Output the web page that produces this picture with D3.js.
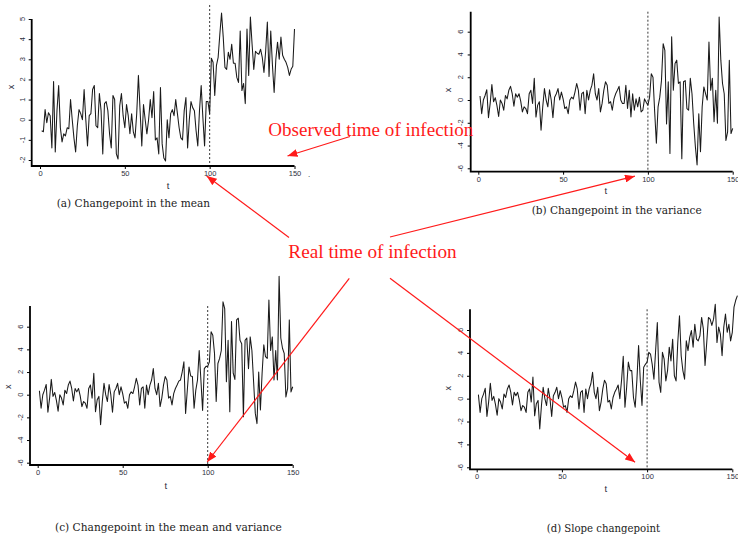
<!DOCTYPE html>
<html><head><meta charset="utf-8">
<script src="https://cdn.jsdelivr.net/npm/d3@7"></script>
<style>body{margin:0;background:#fff}svg{display:block}</style>
</head><body><svg id="c" width="738" height="535"></svg>
<script>
// ---------- data ----------
const tTicks = [0, 50, 100, 150];
const yTicksA = [-2, -1, 0, 1, 2, 3, 4, 5];
const yTicksB = [-6, -4, -2, 0, 2, 4, 6];
const changeT = 100;

// (a) changepoint in the mean, t = 1..150
const seriesA = [-0.55,-0.6,0.5,-0.15,0.35,0.2,-1.4,1.9,-1.6,0.45,1.7,-0.4,-1.1,-0.7,-0.8,-0.4,-0.45,1.0,0.0,-0.9,
-1.6,-0.3,0.5,0.3,0.0,1.5,0.0,-1.3,0.2,0.3,1.5,1.7,-0.3,-0.4,1.3,0.45,-1.7,0.8,0.9,0.45,
-0.7,-1.4,1.2,1.0,-1.7,-1.95,0.7,1.3,0.2,-0.4,0.75,0.2,-0.7,0.3,-0.6,-0.9,0.3,2.2,0.45,-1.3,
0.75,0.0,-0.7,0.0,1.0,0.1,1.4,-1.0,-0.9,-1.7,1.6,-1.2,-1.9,-2.05,0.0,-0.9,0.3,0.5,0.2,1.0,
0.3,-0.4,-0.9,-1.0,0.45,1.1,-1.4,0.0,0.9,0.6,0.45,-0.55,-1.3,0.45,1.7,0.1,-1.3,0.9,0.9,0.3,
3.05,2.85,1.2,2.7,3.1,4.25,5.3,4.1,2.6,2.5,3.35,3.0,3.75,2.8,2.8,2.1,1.85,4.4,1.45,1.8,
0.8,4.5,2.2,5.1,3.75,2.5,3.4,3.3,3.25,3.5,3.1,2.35,3.4,4.85,2.15,4.4,2.7,1.35,3.0,3.85,
3.0,4.1,3.2,3.0,2.85,2.6,2.2,2.5,2.65,4.5];

// (b) changepoint in the variance, t = 1..150
const seriesB = [0.35,-1.2,0,0.4,0.9,-1.55,-0.3,1.35,-0.15,0.2,-0.5,-1.45,0,-0.3,-0.9,0.4,0.1,0.85,1.2,0.55,
-0.55,0.55,0.25,0.55,-0.1,-1.05,-0.6,-0.75,-1.2,0.55,0.85,-0.3,1.9,-1.5,-0.45,-0.15,-2.65,-0.6,1.0,0,
-0.6,0.9,0,-1.55,0.25,0.55,1.0,0,0.7,0.1,-0.75,-0.6,-1.2,0,0.25,0.1,0.7,1.45,0.85,-0.9,
0.55,0.7,-1.2,0.85,0,0.85,1.3,2.3,0.55,0,1.0,-1.05,-0.3,0.85,1.6,1.3,-0.3,-0.15,-0.9,0.1,
0.55,0.85,1.2,0,-0.3,-0.3,1.3,-0.75,0.85,-1.5,0.55,-0.9,0.1,-0.6,0.25,-1.05,-0.9,0.1,-0.2,-0.45,
0.25,2.3,2.0,-1.05,-3.8,-0.6,0.25,1.7,4.95,4.35,-2.1,1.6,-4.7,5.55,0.85,3.2,3.5,1.45,1.6,-5.15,
1.6,1.7,-0.75,-0.9,1.9,0.55,-2.05,-4.1,-5.7,-1.2,-4.55,-0.6,1.15,0.55,0,5.1,0.85,1.9,-1.9,0.85,
-2.05,7.3,3.5,1.45,0.55,-3.55,-2.8,3.5,-2.95,-2.5];

// (c) changepoint in mean and variance: shares t = 1..83 with (b), then t = 84..150
const tailC = [1.3,2.0,2.9,-1.65,0.4,2.45,1.65,1.6,-1.2,0.4,1.3,3.9,1.3,-1.4,2.3,2.5,2.5,2.9,5.55,5.25,
3.65,-0.6,2.75,3.2,3.9,8.2,7.6,1.15,4.8,-1.5,6.45,1.9,1.35,6.6,6.75,4.8,4.5,-1.95,4.8,5.0,
2.3,5.1,3.9,1.15,-1.65,-2.55,2.0,-1.35,1.9,4.4,3.35,3.2,8.35,3.9,5.1,1.3,3.9,1.3,10.45,5.0,
4.1,3.65,-0.2,0.55,6.6,0.25,0.7];
const seriesC = seriesB.slice(0, 83).concat(tailC);

// (d) slope changepoint: shares t = 1..84 with (b), then t = 85..153
const tailD = [1.6,3.7,-0.75,1.0,3.2,2.45,2.45,0.1,-0.75,1.6,4.65,1.6,-0.6,2.75,3.0,3.2,4.05,3.9,3.0,1.7,
4.2,6.65,1.45,0.55,4.05,3.45,1.55,2.45,4.5,3.3,5.2,2.0,1.55,4.9,7.25,3.75,2.45,1.7,5.05,4.2,
5.35,5.95,4.5,6.5,5.2,5.05,5.5,7.1,6.1,2.9,4.9,7.1,6.95,6.4,6.95,8.25,4.9,6.25,5.65,3.75,
6.25,7.4,5.8,6.5,5.05,5.8,8.0,8.6,9.0];
const seriesD = seriesB.slice(0, 84).concat(tailD);

const captions = ["(a) Changepoint in the mean", "(b) Changepoint in the variance",
  "(c) Changepoint in the mean and variance", "(d) Slope changepoint"];
const observedLabel = "Observed time of infection";
const realLabel = "Real time of infection";

// ---------- layout ----------
const panels = [
  {s: seriesA, yt: yTicksA, yd: [-2, 5], yr: [160, 19], xr: [40, 294.5], ax: 31.7, ay: 166, lTop: 19, dTop: 5, xEnd: 294.5, yLabX: 22, xLab: [11, 87], tLab: [168, 185.5], cap: [56.7, 206.5, 153.3]},
  {s: seriesB, yt: yTicksB, yd: [-6, 6], yr: [168.3, 31.7], xr: [478.3, 732.7], ax: 470.7, ay: 171.7, lTop: 11.7, dTop: 11.7, xEnd: 732.7, yLabX: 460.7, xLab: [448.3, 90], tLab: [605.7, 190.5], cap: [531.7, 214, 170]},
  {s: seriesC, yt: yTicksB, yd: [-6, 6], yr: [462.7, 326.7], xr: [37.7, 292.7], ax: 30, ay: 465, lTop: 306, dTop: 306, xEnd: 292.7, yLabX: 20.7, xLab: [8.3, 386.7], tLab: [165.7, 485.5], cap: [55, 531, 226.7]},
  {s: seriesD, yt: yTicksB, yd: [-6, 6], yr: [467.3, 330], xr: [476.7, 732.3], ax: 470, ay: 469.3, lTop: 309.3, dTop: 309.3, xEnd: 732.3, yLabX: 460.7, xLab: [448.3, 388.3], tLab: [605.7, 488.5], cap: [546.7, 532.3, 113.3]}
];

const svg = d3.select("#c");
const tickCol = "#2e3040";
const sans = "'Liberation Sans', Arial, sans-serif";

panels.forEach((p, i) => {
  const x = d3.scaleLinear().domain([0, 150]).range(p.xr);
  const y = d3.scaleLinear().domain(p.yd).range(p.yr);
  p.x = x; p.y = y;
  const g = svg.append("g");

  // dashed changepoint line
  g.append("line").attr("x1", x(changeT)).attr("x2", x(changeT))
    .attr("y1", p.dTop).attr("y2", p.ay)
    .attr("stroke", "#222").attr("stroke-width", 0.9).attr("stroke-dasharray", "2,2");

  // series
  const line = d3.line().x((d, k) => x(k + 1)).y(d => y(d));
  g.append("path").datum(p.s).attr("d", line)
    .attr("fill", "none").attr("stroke", "#1a1a1a").attr("stroke-width", 1.05)
    .attr("stroke-linejoin", "round");

  // L-shaped frame
  g.append("path")
    .attr("d", `M${p.ax},${p.lTop}V${p.ay}H${p.xEnd}`)
    .attr("fill", "none").attr("stroke", "#000").attr("stroke-width", 1.8);

  // x axis ticks
  const xa = g.append("g").attr("transform", `translate(0,${p.ay})`)
    .call(d3.axisBottom(x).tickValues(tTicks).tickSize(3).tickPadding(1.5));
  xa.select(".domain").remove();
  xa.selectAll("line").attr("stroke", "#000");
  xa.selectAll("text").attr("font-family", sans).attr("font-size", 7.5).attr("fill", tickCol);

  // y axis ticks
  const ya = g.append("g").attr("transform", `translate(${p.ax},0)`)
    .call(d3.axisLeft(y).tickValues(p.yt).tickSize(3).tickFormat(""));
  ya.select(".domain").remove();
  ya.selectAll("line").attr("stroke", "#000");
  g.selectAll(null).data(p.yt).enter().append("text")
    .attr("transform", d => `translate(${p.yLabX},${y(d)}) rotate(-90)`)
    .attr("text-anchor", "middle").attr("dominant-baseline", "central")
    .attr("font-family", sans).attr("font-size", 7.5).attr("fill", tickCol)
    .text(d => d);

  // axis titles
  g.append("text").attr("x", p.tLab[0]).attr("y", p.tLab[1])
    .attr("text-anchor", "middle").attr("dominant-baseline", "central")
    .attr("font-family", sans).attr("font-size", 9.5).attr("fill", tickCol).text("t");
  g.append("text").attr("transform", `translate(${p.xLab[0]},${p.xLab[1]}) rotate(-90)`)
    .attr("text-anchor", "middle").attr("dominant-baseline", "central")
    .attr("font-family", sans).attr("font-size", 9).attr("fill", tickCol).text("x");

  // caption
  svg.append("text").attr("x", p.cap[0]).attr("y", p.cap[1])
    .attr("font-family", "'DejaVu Serif', 'Liberation Serif', serif").attr("font-size", 11)
    .attr("fill", "#222").attr("textLength", p.cap[2]).attr("lengthAdjust", "spacingAndGlyphs")
    .text(captions[i]);
});

// stray dot next to panel (a) x axis
svg.append("text").attr("x", 308).attr("y", 177).attr("font-family", sans)
  .attr("font-size", 8).attr("fill", "#222").text(".");

// ---------- annotations ----------
const red = "#ff1a1a";
svg.append("defs").append("marker").attr("id", "ah")
  .attr("viewBox", "0 0 10 8").attr("refX", 10).attr("refY", 4)
  .attr("markerWidth", 10).attr("markerHeight", 8).attr("markerUnits", "userSpaceOnUse")
  .attr("orient", "auto")
  .append("path").attr("d", "M0,0L10,4L0,8Z").attr("fill", red);

const [pa, pb, pc, pd] = panels;
const arrows = [
  [350, 136.5, pa.x(150) - 7, pa.y(-2) - 4],
  [289, 237.5, pa.x(changeT) - 3, pa.ay + 10],
  [390, 237, pb.x(changeT) - 13, pb.ay + 4.5],
  [349.3, 278.3, pc.x(changeT) - 0.5, pc.ay - 3],
  [390, 278.3, pd.x(changeT) - 12, pd.ay - 7]
];
svg.selectAll(".arr").data(arrows).enter().append("line").attr("class", "arr")
  .attr("x1", d => d[0]).attr("y1", d => d[1]).attr("x2", d => d[2]).attr("y2", d => d[3])
  .attr("stroke", red).attr("stroke-width", 1.2).attr("marker-end", "url(#ah)");

const serif = "'Liberation Serif', 'DejaVu Serif', serif";
svg.append("text").attr("x", 268.3).attr("y", 136).attr("font-family", serif)
  .attr("font-size", 18.5).attr("fill", red).attr("textLength", 205).attr("lengthAdjust", "spacingAndGlyphs")
  .text(observedLabel);
svg.append("text").attr("x", 288.3).attr("y", 257.7).attr("font-family", serif)
  .attr("font-size", 18.5).attr("fill", red).attr("textLength", 168.4).attr("lengthAdjust", "spacingAndGlyphs")
  .text(realLabel);
</script></body></html>
